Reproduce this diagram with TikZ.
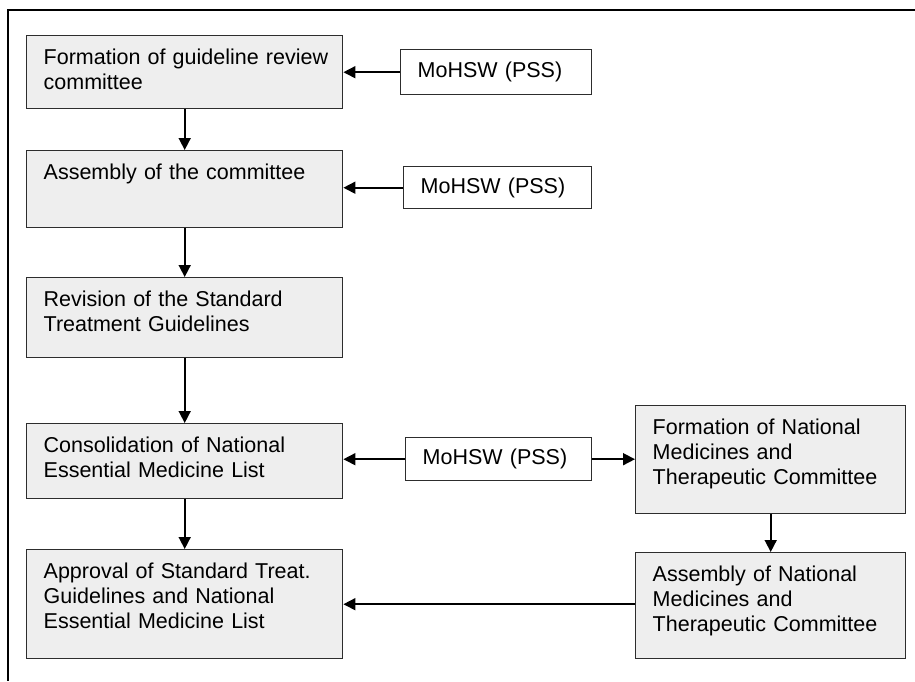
\documentclass[tikz,border=0pt]{standalone}
\usepackage{fontspec}
\setmainfont{Liberation Sans}
\usetikzlibrary{arrows.meta}
\definecolor{boxgray}{RGB}{238,238,238}
\definecolor{edgegray}{RGB}{45,45,45}
\newcommand{\padL}{\leftskip=17pt\relax}
\tikzset{
  gbox/.style={draw=edgegray, line width=1.4pt, fill=boxgray, inner sep=0pt,
    anchor=north west, align=left, text height=29pt,
    font=\fontsize{21.5}{25}\selectfont},
  wbox/.style={draw=edgegray, line width=1.4pt, fill=white, inner sep=0pt,
    anchor=north west, align=left,
    font=\fontsize{21.5}{25}\selectfont},
  arr/.style={line width=1.6pt, draw=black, -{Triangle[length=12pt,width=12pt]}},
  frame/.style={line width=2.2pt, draw=black}
}
\begin{document}
\begin{tikzpicture}[x=1pt,y=-1pt]
\useasboundingbox (0,0) rectangle (915,681);
\coordinate (ftl) at (8,10);
\coordinate (ftr) at (915,10);
\coordinate (fbl) at (8,681);
\draw[frame] (ftr) -- (ftl) -- (fbl);

% left column
\node[gbox, text width=316pt, text depth=44pt] (b1) at (26,35)
  {\padL Formation of guideline review\\committee\par};
\node[gbox, text width=316pt, text depth=48pt] (b2) at (26,150)
  {\padL Assembly of the committee\par};
\node[gbox, text width=316pt, text depth=51pt] (b3) at (26,277)
  {\padL Revision of the Standard\\Treatment Guidelines\par};
\node[gbox, text width=316pt, text depth=46pt] (b4) at (26,423)
  {\padL Consolidation of National\\Essential Medicine List\par};
\node[gbox, text width=316pt, text depth=80pt] (b5) at (26,549)
  {\padL Approval of Standard Treat.\\Guidelines and National\\Essential Medicine List\par};

% right column
\node[gbox, text width=270pt, text depth=79pt] (r1) at (635,405)
  {\padL Formation of National\\Medicines and\\Therapeutic Committee\par};
\node[gbox, text width=270pt, text depth=77pt] (r2) at (635,552)
  {\padL Assembly of National\\Medicines and\\Therapeutic Committee\par};

% MoHSW boxes
\node[wbox, text width=191pt, minimum height=45pt] (m1) at (400,49)
  {\padL MoHSW (PSS)\par};
\node[wbox, text width=188pt, minimum height=42pt] (m2) at (403,166)
  {\padL MoHSW (PSS)\par};
\node[wbox, text width=186pt, minimum height=43pt] (m3) at (405,437)
  {\padL MoHSW (PSS)\par};

% connectors
\draw[arr] (b1.south) -- (b2.north);
\draw[arr] (b2.south) -- (b3.north);
\draw[arr] (b3.south) -- (b4.north);
\draw[arr] (b4.south) -- (b5.north);
\draw[arr] (m1.west) -- (m1.west -| b1.east);
\draw[arr] (m2.west) -- (m2.west -| b2.east);
\draw[arr] (m3.west) -- (m3.west -| b4.east);
\draw[arr] (m3.east) -- (m3.east -| r1.west);
\draw[arr] (r1.south) -- (r2.north);
\draw[arr] (r2.west |- b5.east) -- (b5.east);
\end{tikzpicture}
\end{document}
